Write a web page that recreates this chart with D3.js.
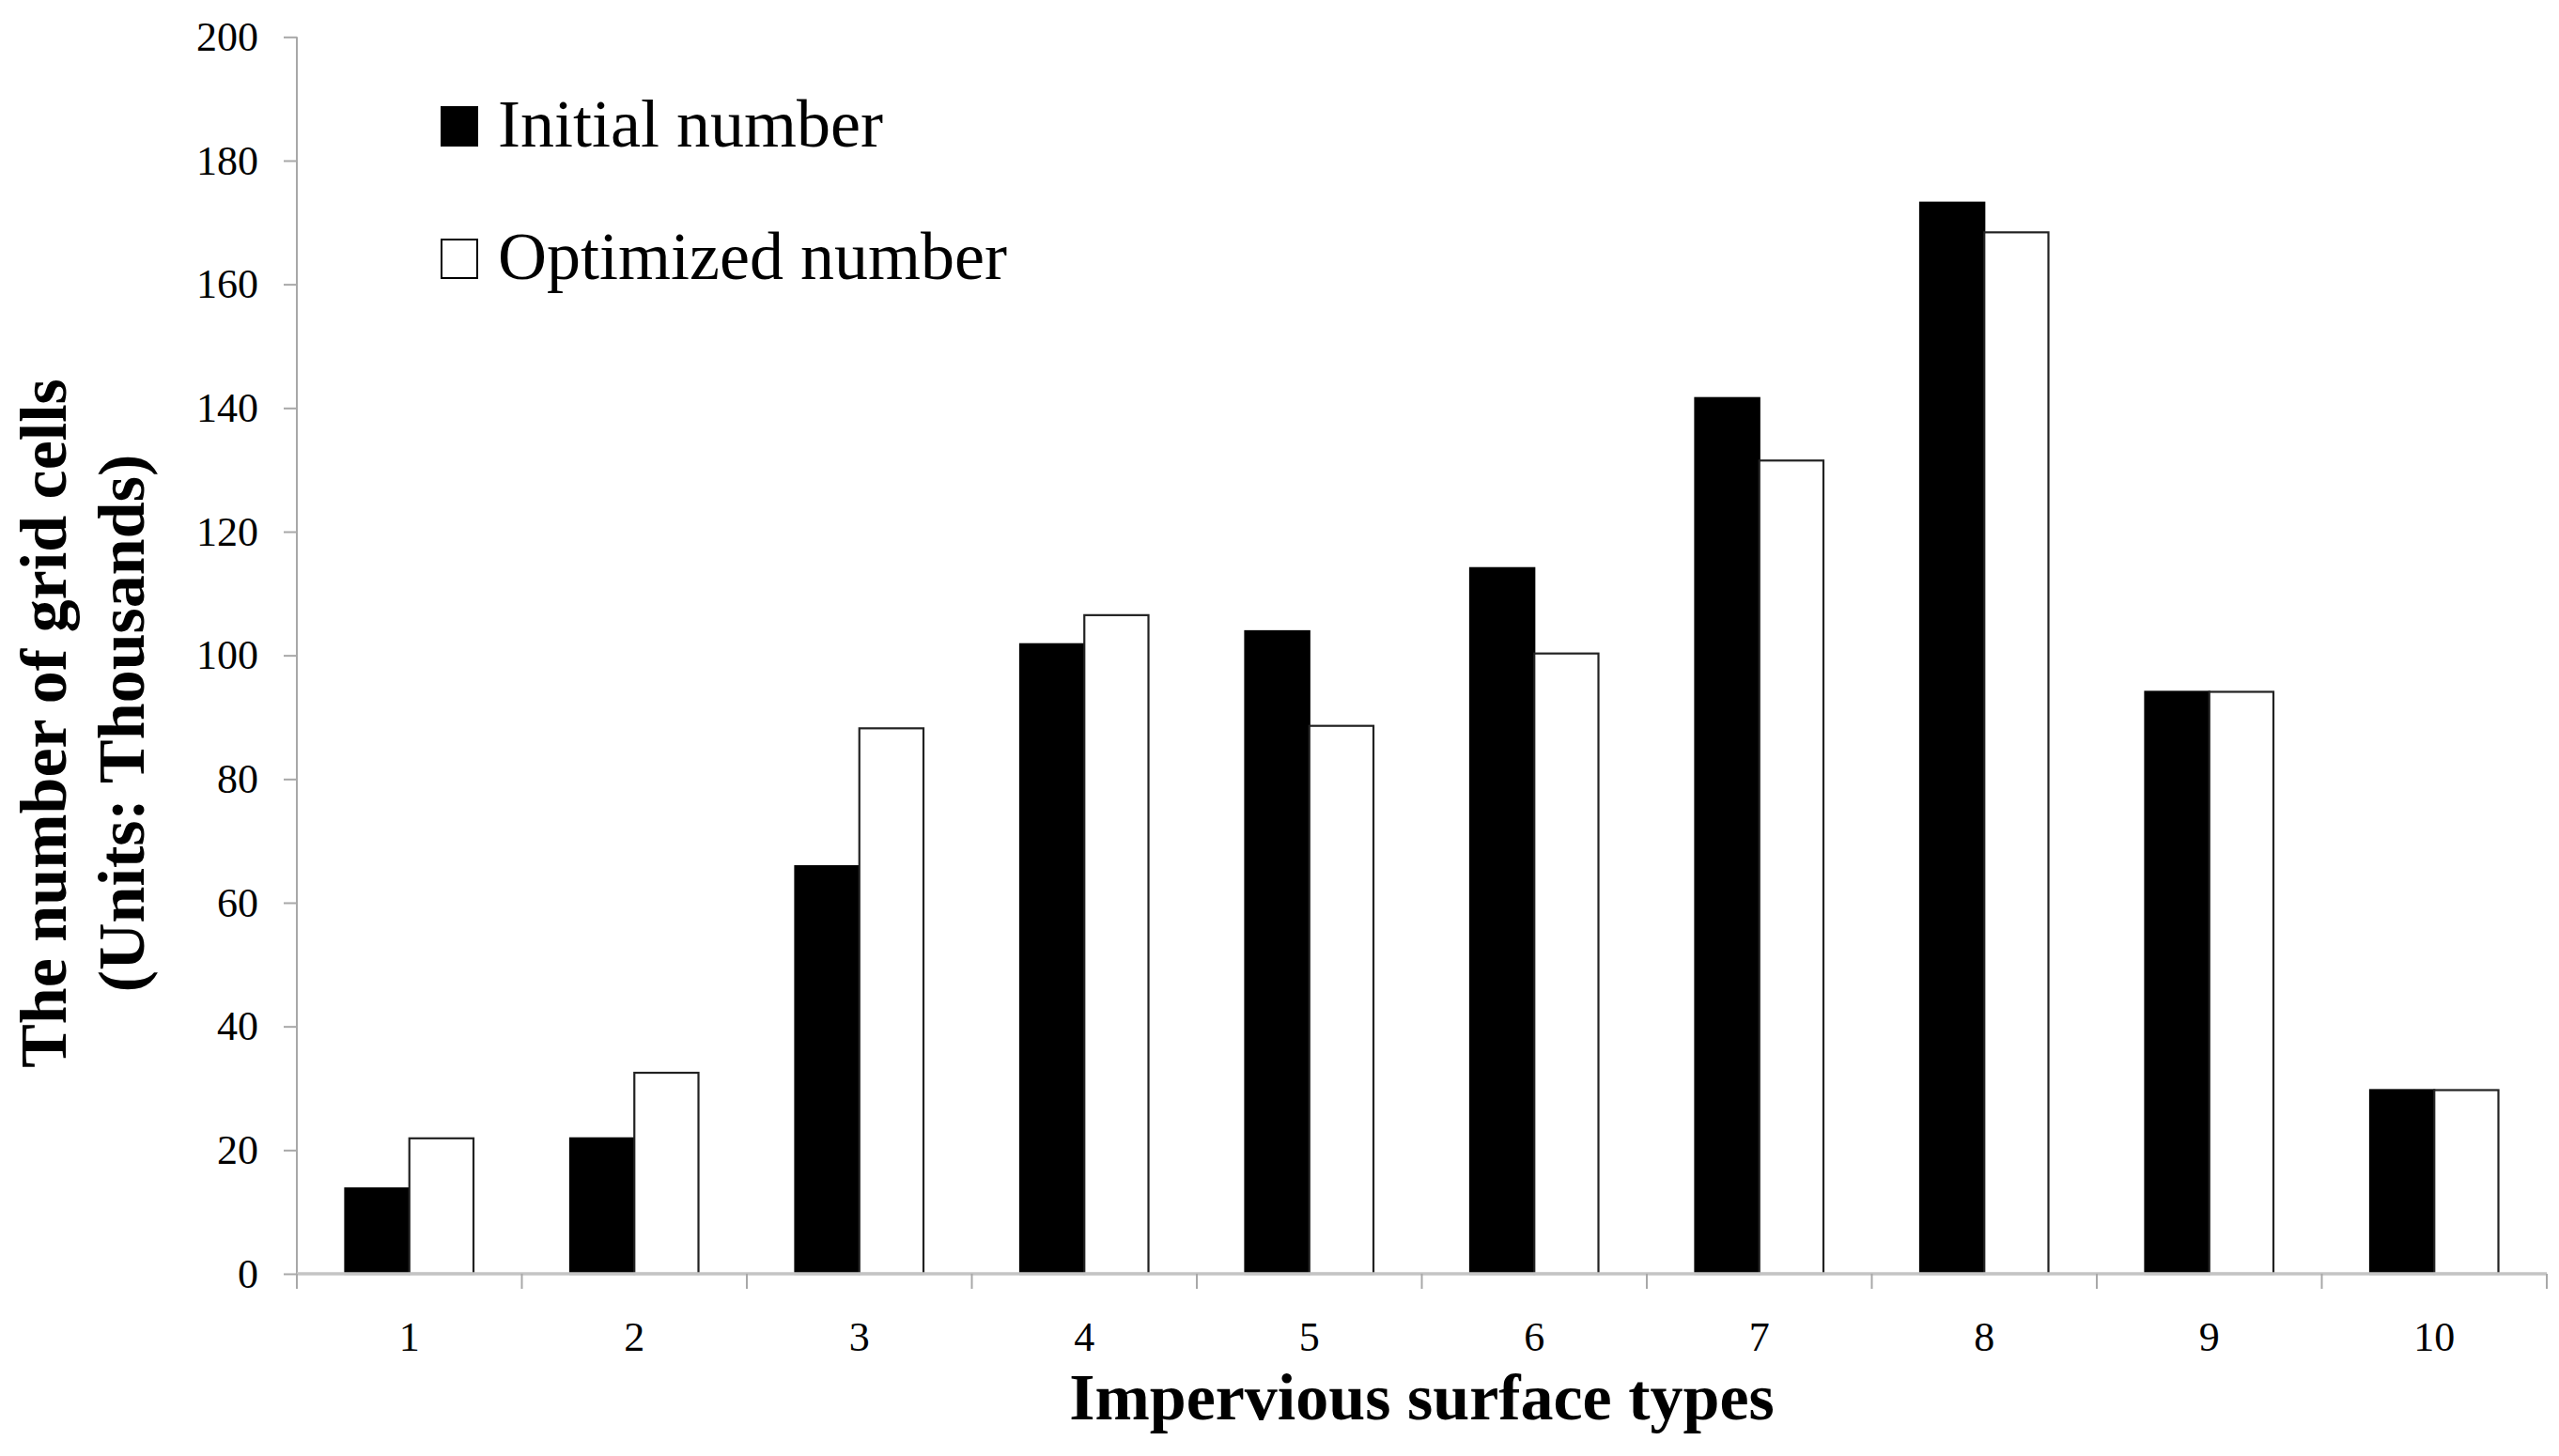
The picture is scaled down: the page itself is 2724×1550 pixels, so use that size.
<!DOCTYPE html>
<html>
<head>
<meta charset="utf-8">
<script src="https://cdn.jsdelivr.net/npm/d3@7/dist/d3.min.js"></script>
<style>
  html, body { margin: 0; padding: 0; background: #fff; }
  svg { display: block; }
  text { font-family: "Liberation Serif", "Times New Roman", serif; fill: #000; }
</style>
</head>
<body>
<script>
const categories = ["1", "2", "3", "4", "5", "6", "7", "8", "9", "10"];
const seriesNames = ["Initial number", "Optimized number"];
const initialValues = [13.8, 21.9, 65.9, 101.8, 103.9, 114.1, 141.6, 173.2, 94.1, 29.7];
const optimizedValues = [21.9, 32.5, 88.2, 106.5, 88.6, 100.3, 131.5, 168.4, 94.1, 29.7];
const yTicks = [0, 20, 40, 60, 80, 100, 120, 140, 160, 180, 200];
const xTitle = "Impervious surface types";
const yTitleLines = ["The number of grid cells", "(Units: Thousands)"];

const W = 2724, H = 1550;
const plot = { left: 316, right: 2711, top: 39.3, bottom: 1356 };

const svg = d3.select("body").append("svg")
  .attr("width", W).attr("height", H)
  .attr("viewBox", `0 0 ${W} ${H}`);
svg.append("rect").attr("width", W).attr("height", H).attr("fill", "#fff");

const x = d3.scaleBand().domain(categories).range([plot.left, plot.right]).padding(0);
const bw = x.bandwidth();
const xs = d3.scaleBand().domain(seriesNames).range([bw * 0.215, bw * 0.785]).padding(0);
const y = d3.scaleLinear().domain([0, 200]).range([plot.bottom, plot.top]);

const data = categories.map((c, i) => ({ cat: c, vals: [initialValues[i], optimizedValues[i]] }));
const fills = ["#000", "#fff"];
const strokes = ["#000", "#222"];

// Y axis
const yAxis = d3.axisLeft(y).tickValues(yTicks).tickSize(14).tickPadding(27).tickSizeOuter(0);
const gy = svg.append("g").attr("transform", `translate(${plot.left},0)`).call(yAxis);
gy.select(".domain").attr("stroke", "#a8a8a8").attr("stroke-width", 2)
  .attr("d", `M0,${plot.top}V${plot.bottom + 16}`);
gy.selectAll(".tick line").attr("stroke", "#a8a8a8").attr("stroke-width", 2);
gy.selectAll(".tick text").attr("font-size", 44).attr("font-family", "Liberation Serif").attr("fill", "#000");

// Bars
const groups = svg.append("g").selectAll("g").data(data).join("g")
  .attr("transform", d => `translate(${x(d.cat)},0)`);
groups.selectAll("rect").data(d => d.vals.map((v, j) => ({ v, j }))).join("rect")
  .attr("x", d => xs(seriesNames[d.j]))
  .attr("width", xs.bandwidth())
  .attr("y", d => y(d.v))
  .attr("height", d => y(0) - y(d.v))
  .attr("fill", d => fills[d.j])
  .attr("stroke", d => strokes[d.j])
  .attr("stroke-width", 2.2);

// X axis (ticks at category boundaries)
const gx = svg.append("g").attr("transform", `translate(0,${plot.bottom})`);
gx.append("line").attr("x1", plot.left).attr("x2", plot.right)
  .attr("y1", 0).attr("y2", 0).attr("stroke", "#c4c4c4").attr("stroke-width", 3.5);
const boundaries = categories.map(c => x(c)).concat([plot.right]);
gx.selectAll("line.b").data(boundaries).join("line").attr("class", "b")
  .attr("x1", d => d).attr("x2", d => d).attr("y1", 0).attr("y2", 16)
  .attr("stroke", "#a8a8a8").attr("stroke-width", 2);
gx.selectAll("text.lbl").data(categories).join("text").attr("class", "lbl")
  .attr("x", d => x(d) + bw / 2).attr("y", 82)
  .attr("text-anchor", "middle").attr("font-size", 44)
  .text(d => d);

// Axis titles
svg.append("text").attr("x", (plot.left + plot.right) / 2).attr("y", 1511)
  .attr("text-anchor", "middle").attr("font-size", 70).attr("font-weight", "bold")
  .text(xTitle);
const yt = svg.append("g").attr("transform", "translate(0,770) rotate(-90)");
yt.selectAll("text").data(yTitleLines).join("text")
  .attr("x", 0).attr("y", (d, i) => i === 0 ? 70 : 153)
  .attr("text-anchor", "middle").attr("font-size", 70).attr("font-weight", "bold")
  .text(d => d);

// Legend
const leg = svg.append("g");
const legRows = [114, 255];
seriesNames.forEach((name, i) => {
  leg.append("rect").attr("x", 470).attr("y", legRows[i]).attr("width", 38).attr("height", 41)
    .attr("fill", fills[i]).attr("stroke", "#000").attr("stroke-width", 2);
  leg.append("text").attr("x", 530).attr("y", legRows[i] + 42)
    .attr("font-size", 72).text(name);
});
</script>
</body>
</html>
